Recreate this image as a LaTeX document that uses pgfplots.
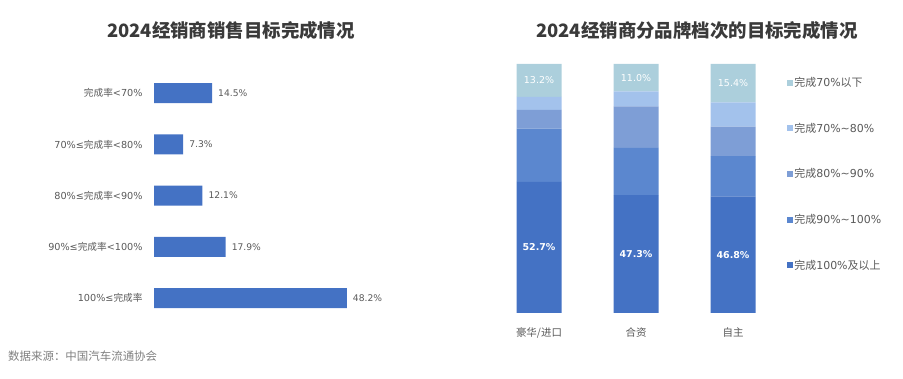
\documentclass[border=0pt]{standalone}
\usepackage{pgfplots}
\pgfplotsset{compat=1.18}
\usepackage{fontspec}
\setmainfont{DejaVu Sans}
\newfontfamily\cjk{Noto Sans CJK SC}
\definecolor{c1}{HTML}{4472C4}
\definecolor{c2}{HTML}{5B87CF}
\definecolor{c3}{HTML}{7E9ED6}
\definecolor{c4}{HTML}{A3C2EC}
\definecolor{c5}{HTML}{ACCFDC}
\definecolor{txt}{HTML}{595959}
\definecolor{ttl}{HTML}{3A3A3A}
\begin{document}
\begin{tikzpicture}
\path[use as bounding box] (0,0) rectangle (903bp,379bp);
\node[font=\cjk\bfseries\fontsize{18.5}{21}\selectfont, text=ttl] at (231bp,349bp) {2024经销商销售目标完成情况};
\node[font=\cjk\bfseries\fontsize{18.5}{21}\selectfont, text=ttl] at (697bp,349bp) {2024经销商分品牌档次的目标完成情况};
\node[anchor=west, font=\cjk\fontsize{11.5}{13}\selectfont, text=gray, inner sep=0pt] at (8bp,23bp) {数据来源：中国汽车流通协会};

\begin{axis}[
  at={(154bp,55.4bp)}, anchor=south west,
  scale only axis, width=240bp, height=256bp,
  xbar, bar width=20bp,
  xmin=0, xmax=60, ymin=-0.5, ymax=4.5, y dir=reverse,
  axis line style={draw=none}, tick style={draw=none},
  xtick=\empty, ytick={0,1,2,3,4},
  yticklabels={{{\cjk 完成率}<70\%},{70\%≤{\cjk 完成率}<80\%},{80\%≤{\cjk 完成率}<90\%},{90\%≤{\cjk 完成率}<100\%},{100\%≤{\cjk 完成率}}},
  yticklabel style={font=\fontsize{9.7}{11}\selectfont, text=txt, inner sep=0pt, xshift=-7bp},
  /pgf/number format/assume math mode=true,
  point meta=x,
  nodes near coords={\pgfmathprintnumber[fixed,precision=1,fixed zerofill]{\pgfplotspointmeta}\%},
  nodes near coords style={font=\fontsize{9.2}{10}\selectfont, text=txt, anchor=west, inner sep=0pt, xshift=6bp},
]
\addplot[fill=c1, draw=none] coordinates {(14.5,0) (7.3,1) (12.1,2) (17.9,3) (48.2,4)};
\end{axis}

\begin{axis}[
  at={(490.5bp,66bp)}, anchor=south west,
  scale only axis, width=291bp, height=249bp,
  ybar stacked, bar width=45bp,
  xmin=-0.5, xmax=2.5, ymin=0, ymax=100,
  axis line style={draw=none}, tick style={draw=none},
  ytick=\empty, xtick={0,1,2},
  xticklabels={豪华/进口,合资,自主},
  xticklabel style={font=\cjk\fontsize{10.5}{12}\selectfont, text=txt, inner sep=0pt, yshift=-14bp},
  /pgf/number format/assume math mode=true,
  reverse legend,
  legend style={at={(1.0086,0.96)}, anchor=north west, draw=none, fill=none,
    font=\fontsize{11}{12}\selectfont, text=txt, row sep=32.4bp,
    cells={anchor=west}, nodes={inner sep=1.2bp}},
  legend image code/.code={\fill[#1] (0bp,-3bp) rectangle (6bp,3bp);},
]
\addplot[fill=c1, draw=none, point meta=explicit,
  nodes near coords={\pgfmathprintnumber[fixed,precision=1,fixed zerofill]{\pgfplotspointmeta}\%},
  nodes near coords style={font=\bfseries\fontsize{9.5}{11}\selectfont, text=white, anchor=center}]
  coordinates {(0,52.7)[52.7] (1,47.3)[47.3] (2,46.8)[46.8]};
\addlegendentry{{\cjk 完成}100\%{\cjk 及以上}}
\addplot[fill=c2, draw=none] coordinates {(0,21.3) (1,19.0) (2,16.2)};
\addlegendentry{{\cjk 完成}90\%\textasciitilde100\%}
\addplot[fill=c3, draw=none] coordinates {(0,7.6) (1,16.7) (2,11.8)};
\addlegendentry{{\cjk 完成}80\%\textasciitilde90\%}
\addplot[fill=c4, draw=none] coordinates {(0,5.2) (1,6.0) (2,9.8)};
\addlegendentry{{\cjk 完成}70\%\textasciitilde80\%}
\addplot[fill=c5, draw=none, point meta=explicit,
  nodes near coords={\pgfmathprintnumber[fixed,precision=1,fixed zerofill]{\pgfplotspointmeta}\%},
  nodes near coords style={font=\fontsize{9.5}{11}\selectfont, text=white, anchor=center}]
  coordinates {(0,13.2)[13.2] (1,11.0)[11.0] (2,15.4)[15.4]};
\addlegendentry{{\cjk 完成}70\%{\cjk 以下}}
\end{axis}
\end{tikzpicture}
\end{document}
